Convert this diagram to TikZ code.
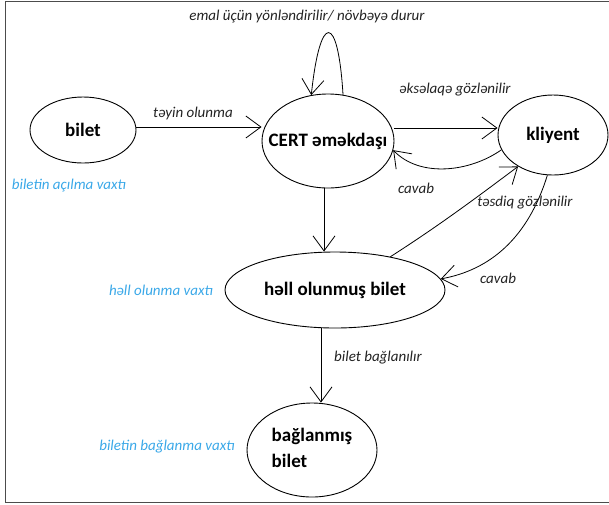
\documentclass[tikz,border=0pt]{standalone}
\usepackage{fontspec}
\setmainfont{Carlito}
\usetikzlibrary{shapes.geometric,arrows.meta}
\definecolor{bluelab}{HTML}{3AA8E8}
\definecolor{darklab}{HTML}{222222}
\newcommand{\zbox}[1]{\makebox[0pt]{#1}}
\begin{document}
\begin{tikzpicture}[x=1pt,y=-1pt,
  state/.style={draw=black,line width=0.9pt,ellipse,inner sep=0pt,font=\fontsize{19}{23}\selectfont\bfseries},
  conn/.style={draw=black,line width=0.8pt,-{Straight Barb[length=15pt,width=22pt,line width=0.8pt]}},
  lab/.style={font=\fontsize{15}{17}\selectfont\itshape,text=darklab,inner sep=0pt},
  tlab/.style={font=\fontsize{15}{17}\selectfont\itshape,text=bluelab,inner sep=0pt}]
\useasboundingbox (0,0) rectangle (609,504);
% frame
\draw[color=black!70,line width=1pt] (609,1) -- (5,1) -- (5,502) -- (609,502);
% nodes
\node[state,minimum width=106pt,minimum height=66pt] (bilet) at (83,130) {\zbox{bilet}};
\node[state,minimum width=132pt,minimum height=94pt] (cert) at (328,141) {\zbox{CERT əməkdaşı}};
\node[state,minimum width=110pt,minimum height=80pt] (kliyent) at (553,135) {\zbox{kliyent}};
\node[state,minimum width=220pt,minimum height=76pt] (hell) at (335,290) {\zbox{həll olunmuş bilet}};
\node[state,minimum width=130pt,minimum height=94pt] (bag) at (312,450) {\zbox{\begin{tabular}{@{}l@{}}bağlanmış\\[3pt]bilet\end{tabular}}};
% edges
\draw[conn] (bilet.east |- 0,127) -- (cert.west |- 0,127);
\draw[conn] (cert.72) .. controls (338,12) and (320,12) .. (cert.110);
\draw[conn] (cert.east |- 0,128) -- (kliyent.west |- 0,128);
\draw[conn] (kliyent.196) .. controls (470,172) and (420,178) .. (cert.-8);
\draw[conn] (cert.south -| 324,0) -- (hell.north -| 324,0);
\draw[conn] (hell.31) .. controls (440,225) and (480,195) .. (kliyent.222);
\draw[conn] (kliyent.262) .. controls (528,238) and (490,270) .. (hell.6);
\draw[conn] (hell.south -| 321,0) -- (bag.north -| 321,0);
% labels
\node[lab] (l1) at (307,17) {emal üçün yönləndirilir/ növbəyə durur};
\node[lab] (l2) at (193,113) {təyin olunma};
\node[lab] (l3) at (455,90) {əksəlaqə gözlənilir};
\node[lab] (l4) at (416,188) {cavab};
\node[lab] (l5) at (525,203) {təsdiq gözlənilir};
\node[lab] (l6) at (498,278) {cavab};
\node[lab] (l7) at (378,358) {bilet bağlanılır};
\node[tlab] (t1) at (69,186) {biletin açılma vaxtı};
\node[tlab] (t2) at (161,290) {həll olunma vaxtı};
\node[tlab] (t3) at (167,447) {biletin bağlanma vaxtı};
\end{tikzpicture}
\end{document}
